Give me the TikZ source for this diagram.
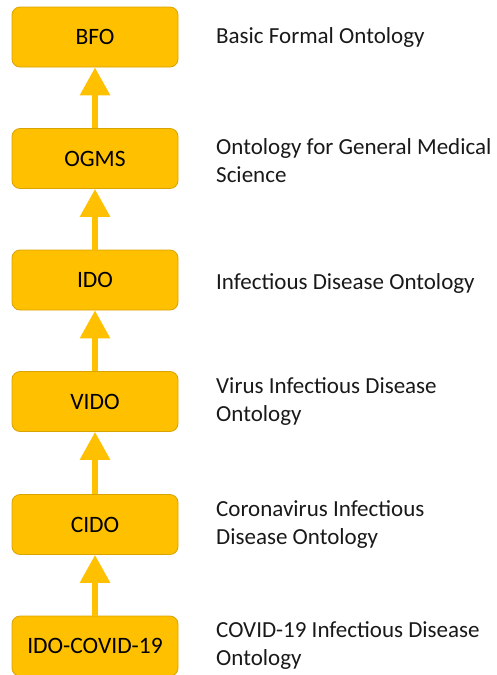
\documentclass[tikz,border=0pt]{standalone}
\usepackage{fontspec}
\setmainfont{Carlito}
\usetikzlibrary{arrows.meta}
\definecolor{gold}{HTML}{FFC000}
\definecolor{golddark}{HTML}{D9A300}

\begin{document}
\begin{tikzpicture}[x=1pt,y=-1pt,
  onto/.style={rectangle,rounded corners=8pt,draw=golddark,line width=.8pt,fill=gold,minimum width=166pt,minimum height=60pt,inner sep=0pt,font=\fontsize{23.5}{27}\selectfont},
  isa/.style={draw=gold,line width=6pt,-{Triangle[width=29pt,length=28pt]}},
  descr/.style={anchor=west,align=left,inner sep=0pt,font=\fontsize{23}{28}\selectfont,text=black!90}
]
\useasboundingbox (0,0) rectangle (497,675);
\node[onto] (BFO) at (95,37) {BFO};
\node[onto] (OGMS) at (95,158.5) {OGMS};
\node[onto] (IDO) at (95,280) {IDO};
\node[onto] (VIDO) at (95,401.5) {VIDO};
\node[onto] (CIDO) at (95,524.5) {CIDO};
\node[onto] (COV) at (95,646) {IDO-COVID-19};

\node[descr] (dBFO) at (216,37) {Basic Formal Ontology};
\node[descr] (dOGMS) at (216,161) {Ontology for General Medical\\Science};
\node[descr] (dIDO) at (216,283) {Infectious Disease Ontology};
\node[descr] (dVIDO) at (216,402) {Virus Infectious Disease\\Ontology};
\node[descr] (dCIDO) at (216,525) {Coronavirus Infectious\\Disease Ontology};
\node[descr] (dCOV) at (216,646) {COVID-19 Infectious Disease\\Ontology};

\draw[isa] (OGMS) -- (BFO);
\draw[isa] (IDO) -- (OGMS);
\draw[isa] (VIDO) -- (IDO);
\draw[isa] (CIDO) -- (VIDO);
\draw[isa] (COV) -- (CIDO);
\end{tikzpicture}
\end{document}
